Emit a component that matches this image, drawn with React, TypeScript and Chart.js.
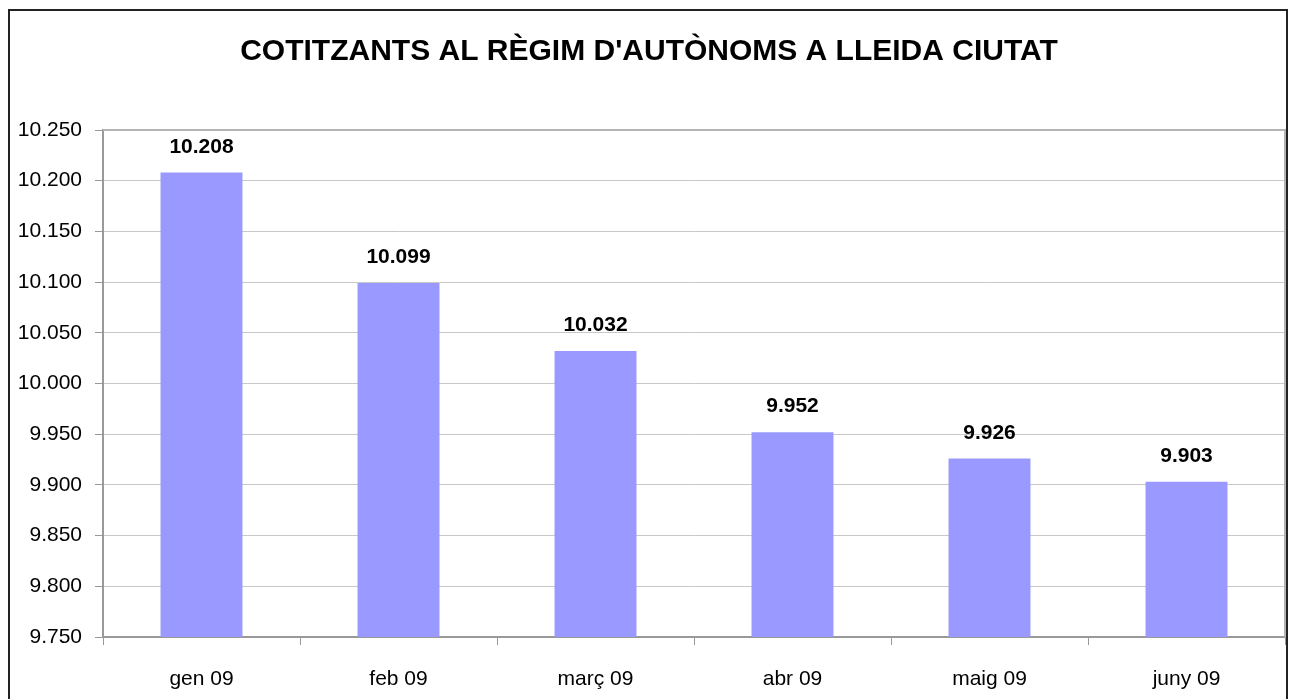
import React, { useEffect, useRef } from "react";
import { Chart, registerables } from "chart.js";

Chart.register(...registerables);

const TITLE = "COTITZANTS AL RÈGIM D'AUTÒNOMS A LLEIDA CIUTAT";
const categories = ["gen 09", "feb 09", "març 09", "abr 09", "maig 09", "juny 09"];
const values = [10208, 10099, 10032, 9952, 9926, 9903];
const yMin = 9750;
const yMax = 10250;
const yStep = 50;

const FONT = "'Liberation Sans', Arial, sans-serif";

function fmt(v: number): string {
  const s = Math.round(v).toString();
  return s.replace(/\B(?=(\d{3})+(?!\d))/g, ".");
}

export default function App() {
  const ref = useRef<HTMLCanvasElement>(null);

  useEffect(() => {
    if (!ref.current) return;
    const decor = {
      id: "decor",
      beforeDraw(chart: any) {
        const ctx = chart.ctx;
        ctx.save();
        ctx.fillStyle = "#ffffff";
        ctx.fillRect(0, 0, chart.width, chart.height);
        ctx.restore();
      },
      afterDraw(chart: any) {
        const ctx = chart.ctx;
        const a = chart.chartArea;
        ctx.save();
        // plot area top/right border
        ctx.strokeStyle = "#b4b4b4";
        ctx.lineWidth = 2;
        ctx.beginPath();
        ctx.moveTo(a.left, a.top);
        ctx.lineTo(a.right, a.top);
        ctx.lineTo(a.right, a.bottom);
        ctx.stroke();
        // outer border
        ctx.strokeStyle = "#222222";
        ctx.lineWidth = 2;
        ctx.strokeRect(9, 10, 1278, 800);
        // title
        ctx.fillStyle = "#000000";
        ctx.font = `bold 30px ${FONT}`;
        ctx.textAlign = "center";
        ctx.textBaseline = "alphabetic";
        ctx.fillText(TITLE, 649, 60);
        // data labels
        ctx.font = `bold 21px ${FONT}`;
        const meta = chart.getDatasetMeta(0);
        meta.data.forEach((bar: any, i: number) => {
          ctx.fillText(fmt(values[i]), bar.x, bar.y - 20);
        });
        ctx.restore();
      },
    };

    const chart = new Chart(ref.current, {
      type: "bar",
      data: {
        labels: categories,
        datasets: [
          {
            data: values,
            backgroundColor: "#9999ff",
            borderWidth: 0,
            categoryPercentage: 1,
            barPercentage: 0.416,
          },
        ],
      },
      options: {
        animation: false,
        responsive: false,
        layout: { padding: { top: 130, left: 0, right: 4, bottom: 0 } },
        plugins: {
          legend: { display: false },
          title: { display: false },
          tooltip: { enabled: false },
        },
        scales: {
          x: {
            grid: {
              offset: true,
              drawOnChartArea: false,
              drawTicks: true,
              tickLength: 8,
              color: "#999999",
              lineWidth: 1,
            },
            border: { display: true, color: "#999999", width: 2 },
            ticks: {
              color: "#000000",
              font: { family: FONT, size: 21 },
              padding: 22,
              maxRotation: 0,
            },
            afterFit(scale: any) {
              scale.height = 62;
            },
          },
          y: {
            min: yMin,
            max: yMax,
            grid: {
              color: "#c8c8c8",
              lineWidth: 1,
              drawTicks: true,
              tickLength: 8,
              tickColor: "#999999",
            },
            border: { display: true, color: "#999999", width: 2 },
            ticks: {
              stepSize: yStep,
              color: "#000000",
              font: { family: FONT, size: 21 },
              padding: 13,
              callback: (v: any) => fmt(Number(v)),
            },
            afterFit(scale: any) {
              scale.width = 103;
            },
          },
        },
      },
      plugins: [decor],
    });
    return () => chart.destroy();
  }, []);

  return (
    <div style={{ position: "fixed", left: 0, top: 0, width: 1289, height: 699 }}>
      <canvas ref={ref} width={1289} height={699} style={{ display: "block", width: 1289, height: 699 }} />
    </div>
  );
}
